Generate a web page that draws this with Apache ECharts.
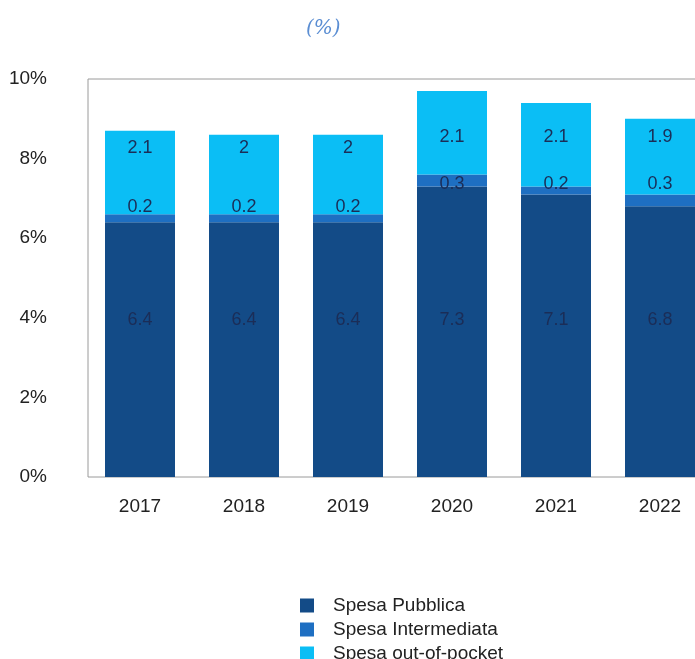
<!DOCTYPE html>
<html>
<head>
<meta charset="utf-8">
<script src="https://cdn.jsdelivr.net/npm/echarts@6/dist/echarts.min.js"></script>
<style>
  html, body { margin: 0; padding: 0; background: #fff; overflow: hidden; }
  #chart { width: 720px; height: 700px; }
</style>
</head>
<body>
<div id="chart"></div>
<script>
// Health spending as share of GDP, by financing source
const years = ['2017', '2018', '2019', '2020', '2021', '2022'];
const spesaPubblica = [6.4, 6.4, 6.4, 7.3, 7.1, 6.8];
const spesaIntermediata = [0.2, 0.2, 0.2, 0.3, 0.2, 0.3];
const spesaOutOfPocket = [2.1, 2, 2, 2.1, 2.1, 1.9];
const yTicks = [0, 2, 4, 6, 8, 10];

const seriesNames = ['Spesa Pubblica', 'Spesa Intermediata', 'Spesa out-of-pocket'];
const seriesColors = ['#134B87', '#1E6FC2', '#0BBEF5'];

// Height (in axis units) where each series' value label sits, per year
const labelLevels = [
  [3.94, 3.94, 3.94, 3.94, 3.94, 3.94],
  [6.78, 6.78, 6.78, 7.36, 7.36, 7.36],
  [8.27, 8.27, 8.27, 8.55, 8.55, 8.55]
];

const stacks = [spesaPubblica, spesaIntermediata, spesaOutOfPocket];
const FONT = 'Liberation Sans, Arial, sans-serif';

// The plot frame runs past the right edge of the visible 695x659 window
const chart = echarts.init(document.getElementById('chart'), null, { renderer: 'canvas' });

function buildSeries(offsets) {
  return stacks.map((vals, s) => ({
    name: seriesNames[s],
    type: 'bar',
    stack: 'total',
    barWidth: 70,
    itemStyle: { color: seriesColors[s] },
    emphasis: { disabled: true },
    label: {
      show: true,
      position: 'inside',
      color: '#1B2D57',
      fontSize: 18,
      fontFamily: FONT
    },
    data: vals.map((v, i) => ({
      value: v,
      label: { offset: [0, offsets ? offsets[s][i] : 0] }
    }))
  }));
}

chart.setOption({
  animation: false,
  backgroundColor: '#fff',
  title: {
    text: '(%)',
    left: 301,
    top: 14,
    textStyle: {
      color: '#5B8ED3',
      fontStyle: 'italic',
      fontWeight: 'normal',
      fontSize: 20,
      fontFamily: 'DejaVu Serif, Liberation Serif, serif'
    }
  },
  grid: {
    left: 88,
    top: 79,
    right: 8,
    bottom: 223,
    show: true,
    borderColor: '#9a9a9a',
    borderWidth: 1,
    backgroundColor: 'transparent'
  },
  legend: {
    orient: 'vertical',
    left: 295,
    top: 591,
    height: 100,
    itemWidth: 14,
    itemHeight: 14,
    itemGap: 5,
    icon: 'rect',
    selectedMode: false,
    data: seriesNames,
    textStyle: {
      color: '#222',
      fontSize: 19,
      lineHeight: 19,
      padding: [0, 0, 0, 14],
      fontFamily: FONT
    }
  },
  xAxis: {
    type: 'category',
    data: years,
    axisTick: { show: false },
    axisLine: { show: false },
    axisLabel: {
      color: '#222',
      fontSize: 19,
      margin: 20,
      fontFamily: FONT
    }
  },
  yAxis: {
    type: 'value',
    min: yTicks[0],
    max: yTicks[yTicks.length - 1],
    interval: 2,
    splitLine: { show: false },
    axisLine: { show: false },
    axisTick: { show: false },
    axisLabel: {
      color: '#222',
      fontSize: 19,
      margin: 41,
      fontFamily: FONT,
      formatter: v => v + '%'
    }
  },
  series: buildSeries(null)
});

// Shift each label from its segment's centre to its label level
const offsets = stacks.map((vals, s) => vals.map((v, i) => {
  let base = 0;
  for (let k = 0; k < s; k++) base += stacks[k][i];
  const centreY = chart.convertToPixel({ yAxisIndex: 0 }, base + v / 2);
  const targetY = chart.convertToPixel({ yAxisIndex: 0 }, labelLevels[s][i]);
  return targetY - centreY;
}));

chart.setOption({ series: buildSeries(offsets) });
</script>
</body>
</html>
